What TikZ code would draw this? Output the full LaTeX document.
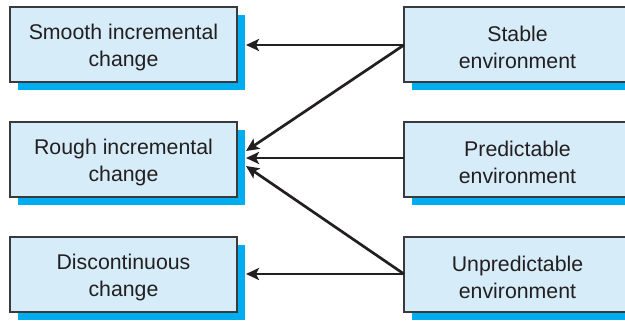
\documentclass[tikz,border=0pt]{standalone}
\usepackage{fontspec}
\setmainfont{Liberation Sans}
\usetikzlibrary{arrows.meta}
\definecolor{boxfill}{HTML}{D6ECF9}
\definecolor{boxshadow}{HTML}{00AEEF}
\definecolor{boxline}{HTML}{3A3A3C}
\definecolor{inkdark}{HTML}{231F20}
\tikzset{
  card/.style={draw=boxline, line width=1.5pt, fill=boxfill,
    minimum width=227pt, minimum height=75pt, inner sep=0pt},
  cardtext/.style={text=inkdark, align=center, inner sep=0pt,
    font=\fontsize{21.3}{27}\selectfont},
  cardshadow/.style={fill=boxshadow, draw=none},
  link/.style={draw=inkdark, line width=2.7pt,
    -{Stealth[length=13pt,width=12pt,inset=3pt]}}
}
\newcommand{\shadowcard}[4]{%
  \fill[cardshadow] (#2-113.5+8,#3-37.5+8) rectangle (#2+113.5+8,#3+37.5+8);
  \node[card] (#1) at (#2,#3) {};
  \node[cardtext] (#1-label) at (#2,#3+2.5) {#4};
}
\begin{document}
\begin{tikzpicture}[x=1pt,y=-1pt]
  \useasboundingbox (0,0) rectangle (625,321);
  \clip (0,0) rectangle (625,321);
  \fill[white] (0,0) rectangle (625,321);
  % change types (left column)
  \shadowcard{smooth}{123.5}{44.5}{Smooth incremental\\change}
  \shadowcard{rough}{123.5}{159.5}{Rough incremental\\change}
  \shadowcard{discont}{123.5}{274.5}{Discontinuous\\change}
  % environment types (right column)
  \shadowcard{stable}{517.5}{44.5}{Stable\\environment}
  \shadowcard{predict}{517.5}{159.5}{Predictable\\environment}
  \shadowcard{unpredict}{517.5}{274.5}{Unpredictable\\environment}
  % arrow targets just past each shadow
  \coordinate (tSmooth) at (246,45);
  \coordinate (tRoughHi) at (246,151);
  \coordinate (tRough) at (246,158);
  \coordinate (tRoughLo) at (246,166);
  \coordinate (tDiscont) at (246,274);
  \coordinate (sStable) at (404,45);
  \coordinate (sPredict) at (404,158);
  \coordinate (sUnpredict) at (404,274);
  % connectors
  \draw[link] (sStable) -- (tSmooth);
  \draw[link] (sStable) -- (tRoughHi);
  \draw[link] (sPredict) -- (tRough);
  \draw[link] (sUnpredict) -- (tRoughLo);
  \draw[link] (sUnpredict) -- (tDiscont);
\end{tikzpicture}
\end{document}
